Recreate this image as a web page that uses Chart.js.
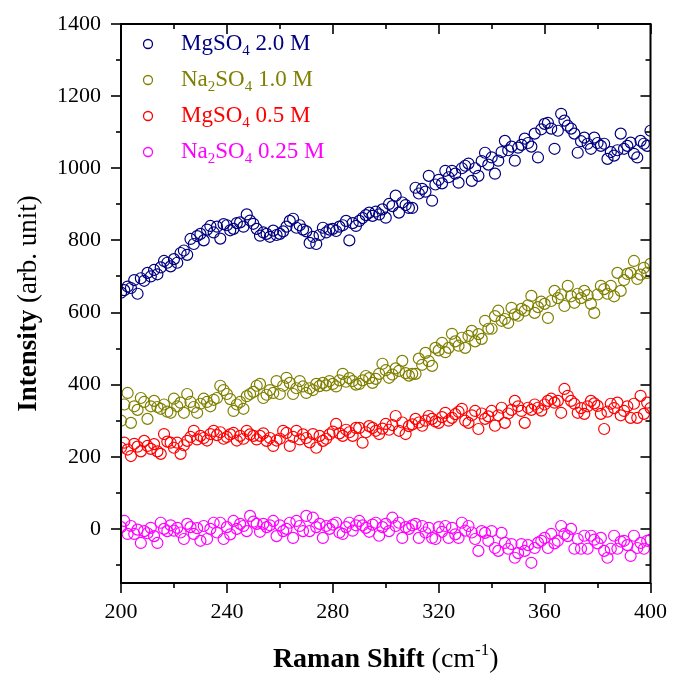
<!DOCTYPE html>
<html>
<head>
<meta charset="utf-8">
<script src="https://cdn.jsdelivr.net/npm/chart.js@4/dist/chart.umd.min.js"></script>
<style>
  html, body { margin: 0; padding: 0; background: #fff; }
  #wrap { width: 673px; height: 679px; }
</style>
</head>
<body>
<div id="wrap"><canvas id="c" width="673" height="679"></canvas></div>
<script>
// Raman spectra of sulfate solutions, 200-400 cm^-1, sampled every 1.25 cm^-1
const shiftStart = 200;
const shiftStep = 1.25;

const mgso4_2M = [
  655, 662, 672, 668, 690, 652, 695, 688,
  710, 700, 718, 706, 725, 743, 738, 728,
  748, 738, 765, 772, 760, 804, 790, 812,
  818, 800, 830, 840, 822, 838, 805, 845,
  842, 828, 832, 848, 850, 838, 872, 855,
  846, 832, 813, 822, 818, 810, 827, 815,
  818, 825, 838, 854, 860, 835, 842, 830,
  825, 793, 810, 790, 815, 835, 822, 830,
  832, 826, 838, 842, 854, 800, 848, 840,
  854, 862, 870, 877, 868, 880, 872, 886,
  863, 901, 895, 924, 877, 905, 898, 890,
  890, 946, 930, 943, 935, 979, 910, 955,
  968, 958, 993, 975, 993, 985, 960, 1000,
  1007, 1013, 965, 1000, 979, 1020, 1043, 1010,
  1030, 985, 1021, 1045, 1076, 1050, 1060, 1021,
  1057, 1065, 1082, 1070, 1060, 1096, 1030, 1108,
  1123, 1126, 1110, 1054, 1104, 1151, 1132, 1118,
  1110, 1096, 1043, 1075, 1085, 1068, 1054, 1085,
  1070, 1062, 1068, 1026, 1045, 1035, 1050, 1096,
  1054, 1062, 1071, 1040, 1030, 1076, 1068, 1062,
  1104
];

const na2so4_1M = [
  300, 345, 377, 294, 340, 330, 363, 352,
  305, 340, 355, 338, 333, 345, 325, 322,
  361, 340, 350, 322, 374, 352, 338, 322,
  347, 361, 352, 340, 358, 363, 397, 385,
  374, 360, 327, 345, 352, 333, 368, 374,
  380, 397, 402, 363, 372, 385, 377, 410,
  374, 397, 419, 405, 374, 390, 410, 395,
  377, 390, 385, 402, 396, 405, 398, 410,
  402, 395, 412, 430, 408, 418, 410, 400,
  402, 412, 424, 418, 405, 416, 430, 458,
  440, 419, 428, 445, 438, 466, 432, 425,
  430, 430, 472, 455, 488, 465, 452, 502,
  495, 516, 490, 502, 541, 520, 508, 530,
  502, 535, 549, 520, 540, 527, 577, 555,
  555, 590, 605, 577, 582, 571, 613, 595,
  591, 610, 605, 620, 646, 599, 615, 630,
  624, 585, 632, 660, 640, 650, 618, 674,
  645, 627, 652, 640, 660, 648, 624, 599,
  650, 674, 665, 652, 674, 645, 710, 660,
  690, 707, 710, 743, 693, 705, 724, 710,
  735
];

const mgso4_05M = [
  225, 239, 220, 202, 236, 228, 215, 244,
  230, 222, 235, 215, 208, 263, 242, 239,
  225, 239, 208, 232, 244, 255, 272, 248,
  258, 252, 245, 263, 272, 260, 268, 250,
  255, 262, 266, 245, 258, 250, 272, 262,
  258, 248, 258, 265, 244, 252, 230, 245,
  250, 272, 266, 230, 255, 272, 248, 262,
  252, 240, 263, 225, 258, 244, 250, 262,
  270, 291, 265, 258, 275, 268, 258, 280,
  280, 239, 268, 285, 280, 272, 263, 278,
  291, 275, 288, 313, 272, 295, 263, 285,
  290, 305, 295, 286, 300, 313, 305, 298,
  294, 310, 322, 300, 308, 318, 325, 333,
  300, 294, 315, 327, 277, 320, 305, 312,
  327, 286, 315, 336, 294, 320, 330, 355,
  340, 327, 294, 336, 330, 345, 336, 328,
  345, 355, 361, 350, 355, 322, 388, 369,
  355, 347, 322, 335, 319, 340, 355, 348,
  341, 319, 277, 325, 347, 335, 350, 315,
  327, 340, 308, 347, 308, 369, 319, 350,
  335
];

const na2so4_025M = [
  5, 22, -14, 8, -14, -2, -39, -6,
  -12, 3, -20, -39, 17, 0, -6, 10,
  -5, 3, -10, -28, 14, 5, -14, 2,
  -33, 8, -28, 0, 17, -10, 17, -28,
  5, -15, 22, 0, 14, 8, -6, 36,
  20, 14, -8, 14, 5, 10, 22, -20,
  10, -6, 0, 17, -25, 22, 8, -6,
  36, -6, 31, 5, 14, -25, 8, 0,
  12, 17, -10, -14, 5, 17, -5, 10,
  22, 10, 3, -8, 12, 17, -19, 5,
  14, -6, 31, 8, 17, -25, 5, 0,
  10, 14, -25, 8, -10, 3, -25, -28,
  5, -8, 8, -25, 3, -15, -25, 17,
  -5, 8, -10, -28, -61, -6, -11, -33,
  -6, -53, -61, -11, -39, -55, -42, -80,
  -67, -42, -61, -45, -94, -53, -38, -33,
  -25, -53, -14, -40, -33, 8, -14, -20,
  0, -55, -28, -55, -19, -55, -19, -30,
  -40, -25, -61, -80, -55, -19, -55, -35,
  -33, -45, -75, -19, -53, -39, -55, -33,
  -30
];

const seriesLabels = ['MgSO\u2084 2.0 M', 'Na\u2082SO\u2084 1.0 M', 'MgSO\u2084 0.5 M', 'Na\u2082SO\u2084 0.25 M'];
const seriesColors = ['#000080', '#808000', '#ff0000', '#ff00ff'];
const xTickValues = [200, 240, 280, 320, 360, 400];
const yTickValues = [0, 200, 400, 600, 800, 1000, 1200, 1400];

const FONT = '"Liberation Serif", "Times New Roman", serif';

function toPoints(values) {
  return values.map((v, i) => ({ x: shiftStart + i * shiftStep, y: v }));
}

const allSeries = [mgso4_2M, na2so4_1M, mgso4_05M, na2so4_025M];

// Draw text where Unicode subscript digits are rendered as small, lowered glyphs
const SUB = { '\u2080': '0', '\u2081': '1', '\u2082': '2', '\u2083': '3', '\u2084': '4',
              '\u2085': '5', '\u2086': '6', '\u2087': '7', '\u2088': '8', '\u2089': '9' };
function drawRich(ctx, parts, x, y) {
  let cx = x;
  for (const p of parts) {
    ctx.font = (p.bold ? 'bold ' : '') + p.size + 'px ' + FONT;
    const dy = p.sub ? p.size * 0.45 : (p.sup ? -p.size * 0.55 : 0);
    ctx.fillText(p.text, cx, y + dy);
    cx += ctx.measureText(p.text).width;
  }
  return cx - x;
}
function measureRich(ctx, parts) {
  let w = 0;
  for (const p of parts) {
    ctx.font = (p.bold ? 'bold ' : '') + p.size + 'px ' + FONT;
    w += ctx.measureText(p.text).width;
  }
  return w;
}
function splitSubscripts(label, size) {
  const parts = [];
  let buf = '';
  for (const ch of label) {
    if (SUB[ch]) {
      if (buf) { parts.push({ text: buf, size }); buf = ''; }
      parts.push({ text: SUB[ch], size: Math.round(size * 0.65), sub: true });
    } else buf += ch;
  }
  if (buf) parts.push({ text: buf, size });
  return parts;
}

const decorations = {
  id: 'decorations',
  afterDraw(chart) {
    const { ctx, chartArea: a, scales } = chart;
    const xs = scales.x, ys = scales.y;
    ctx.save();
    ctx.strokeStyle = '#000';
    ctx.lineCap = 'butt';

    // frame
    ctx.lineWidth = 2;
    ctx.strokeRect(a.left, a.top, a.right - a.left, a.bottom - a.top);

    // tick marks: outward on bottom/left, inward on top/right
    ctx.lineWidth = 1.6;
    const seg = (x1, y1, x2, y2) => { ctx.beginPath(); ctx.moveTo(x1, y1); ctx.lineTo(x2, y2); ctx.stroke(); };
    for (let v = xs.min; v <= xs.max + 1e-6; v += 20) {
      const px = Math.round(xs.getPixelForValue(v));
      const len = (v % 40 === 0) ? 10 : 5;
      seg(px, a.bottom, px, a.bottom + len);
      seg(px, a.top, px, a.top + len);
    }
    for (let v = -100; v <= 1400; v += 100) {
      const py = Math.round(ys.getPixelForValue(v));
      const len = (v % 200 === 0) ? 10 : 5;
      seg(a.left - len, py, a.left, py);
      seg(a.right - len, py, a.right, py);
    }

    // axis titles
    ctx.fillStyle = '#000';
    ctx.textBaseline = 'middle';
    ctx.textAlign = 'left';
    const xt = [
      { text: 'Raman Shift', bold: true, size: 28 },
      { text: ' (cm', size: 28 },
      { text: '-1', size: 17, sup: true },
      { text: ')', size: 28 }
    ];
    const xw = measureRich(ctx, xt);
    drawRich(ctx, xt, (a.left + a.right) / 2 - xw / 2, 660);

    const yt = [
      { text: 'Intensity', bold: true, size: 27 },
      { text: ' (arb. unit)', size: 27 }
    ];
    const yw = measureRich(ctx, yt);
    ctx.save();
    ctx.translate(29, (a.top + a.bottom) / 2);
    ctx.rotate(-Math.PI / 2);
    drawRich(ctx, yt, -yw / 2, 0);
    ctx.restore();

    // legend
    const rows = [44, 80, 116, 152];
    chart.data.datasets.forEach((ds, i) => {
      const cy = rows[i];
      ctx.strokeStyle = ds.borderColor;
      ctx.lineWidth = 1.3;
      ctx.beginPath();
      ctx.arc(148, cy, 4.5, 0, Math.PI * 2);
      ctx.stroke();
      ctx.fillStyle = ds.borderColor;
      drawRich(ctx, splitSubscripts(ds.label, 23), 181, cy);
    });
    ctx.restore();
  }
};

new Chart(document.getElementById('c'), {
  type: 'scatter',
  data: {
    datasets: allSeries.map((vals, i) => ({
      label: seriesLabels[i],
      data: toPoints(vals),
      borderColor: seriesColors[i],
      backgroundColor: 'rgba(0,0,0,0)',
      pointRadius: 5.5,
      pointBorderWidth: 1.2,
      pointHoverRadius: 5.5
    }))
  },
  options: {
    responsive: false,
    animation: false,
    devicePixelRatio: 1,
    layout: { padding: { top: 24, right: 22, left: 0, bottom: 0 } },
    plugins: { legend: { display: false }, tooltip: { enabled: false } },
    scales: {
      x: {
        type: 'linear',
        min: 200, max: 400,
        afterBuildTicks: s => { s.ticks = xTickValues.map(v => ({ value: v })); },
        afterFit: s => { s.height = 96; },
        grid: { drawOnChartArea: false, color: 'rgba(0,0,0,0)', tickLength: 10 },
        border: { display: false },
        ticks: { color: '#000', font: { family: FONT, size: 22 }, padding: 6, maxRotation: 0,
                 callback: v => String(v) }
      },
      y: {
        type: 'linear',
        min: -150, max: 1400,
        afterBuildTicks: s => { s.ticks = yTickValues.map(v => ({ value: v })); },
        afterFit: s => { s.width = 121; },
        grid: { drawOnChartArea: false, color: 'rgba(0,0,0,0)', tickLength: 10 },
        border: { display: false },
        ticks: { color: '#000', font: { family: FONT, size: 22 }, padding: 10,
                 callback: v => String(v) }
      }
    }
  },
  plugins: [decorations]
});
</script>
</body>
</html>
